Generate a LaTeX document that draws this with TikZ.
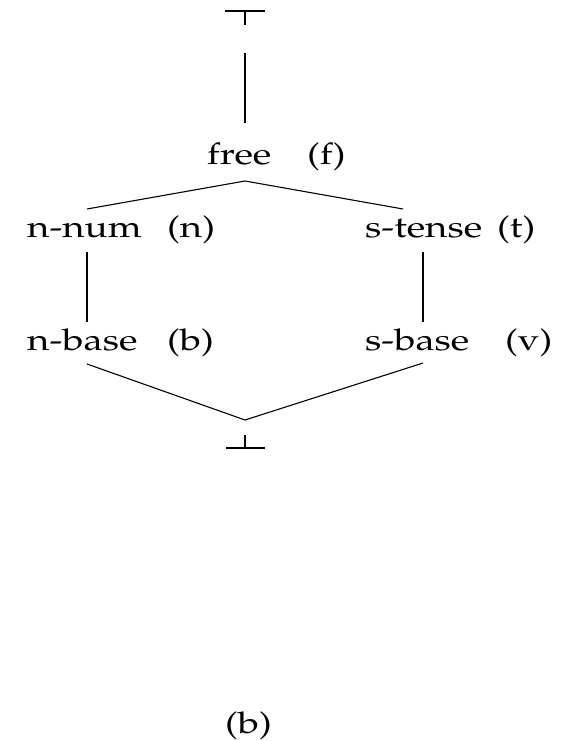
\documentclass[tikz,border=0pt]{standalone}
\usepackage[T1]{fontenc}
\usepackage{mathpazo}
\newcommand{\widetext}[1]{\scalebox{1.28}[1]{#1}}
\tikzset{
  lbl/.style={anchor=base west, inner sep=0pt, font=\fontsize{30}{36}\selectfont},
  edge/.style={line width=1.1pt, line cap=butt}
}
\begin{document}
\begin{tikzpicture}[x=1pt, y=-1pt]
\useasboundingbox (0,0) rectangle (573,741);
% labels
\node[lbl] (free) at (207,164) {\widetext{free}};
\node[lbl] (freetag) at (307,164) {\widetext{(f)}};
\node[lbl] (nnum) at (27,237) {\widetext{n-num}};
\node[lbl] (nnumtag) at (167,237) {\widetext{(n)}};
\node[lbl] (stense) at (365,237) {\widetext{s-tense}};
\node[lbl] (stensetag) at (497,237) {\widetext{(t)}};
\node[lbl] (nbase) at (27,350) {\widetext{n-base}};
\node[lbl] (nbasetag) at (167,350) {\widetext{(b)}};
\node[lbl] (sbase) at (365,350) {\widetext{s-base}};
\node[lbl] (sbasetag) at (505,350) {\widetext{(v)}};
\node[lbl] (caption) at (225,733) {\widetext{(b)}};
% connector end points
\coordinate (topL) at (225,11);
\coordinate (topR) at (265,11);
\coordinate (topM) at (245,11);
\coordinate (topS) at (245,25);
\coordinate (upA) at (245,53);
\coordinate (upB) at (245,123);
\coordinate (apex) at (245,181);
\coordinate (nnumT) at (87,209);
\coordinate (stenseT) at (403,209);
\coordinate (nnumB) at (87,252);
\coordinate (nbaseT) at (87,322);
\coordinate (stenseB) at (423,252);
\coordinate (sbaseT) at (423,322);
\coordinate (nbaseB) at (87,364);
\coordinate (sbaseB) at (423,363);
\coordinate (low) at (245,420);
\coordinate (botS) at (245,435);
\coordinate (botM) at (245,448);
\coordinate (botL) at (226,448);
\coordinate (botR) at (265,448);
% top symbol
\draw[edge] (topL) -- (topR);
\draw[edge] (topM) -- (topS);
\draw[edge] (upA) -- (upB);
% lattice
\draw[edge] (nnumT) -- (apex) -- (stenseT);
\draw[edge] (nnumB) -- (nbaseT);
\draw[edge] (stenseB) -- (sbaseT);
\draw[edge] (nbaseB) -- (low) -- (sbaseB);
% bottom symbol
\draw[edge] (botS) -- (botM);
\draw[edge] (botL) -- (botR);
\end{tikzpicture}
\end{document}
